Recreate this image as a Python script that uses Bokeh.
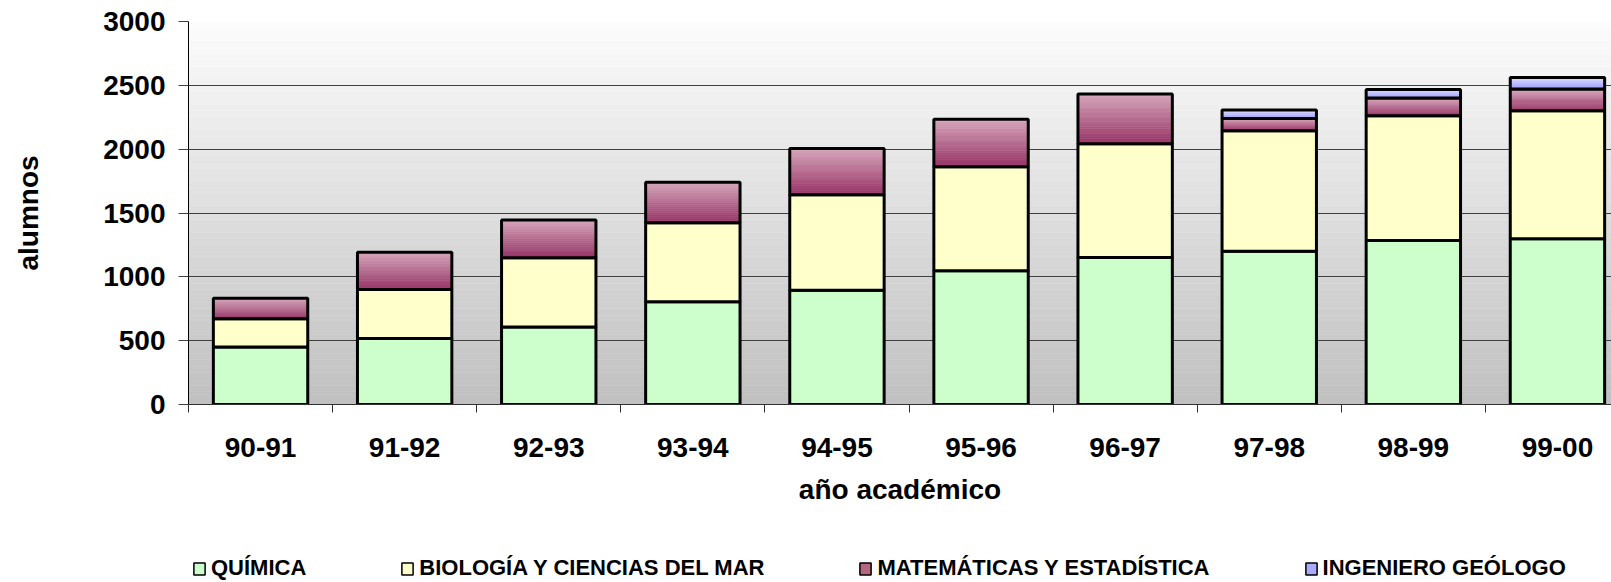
import numpy as np
from bokeh.plotting import figure
from bokeh.layouts import column
from bokeh.models import Range1d, FixedTicker, Legend, LegendItem
from bokeh.embed import file_html
from bokeh.resources import INLINE

# ---------------- data ----------------
years = ["90-91", "91-92", "92-93", "93-94", "94-95", "95-96", "96-97", "97-98", "98-99", "99-00"]
quimica = [450, 516, 607, 805, 895, 1048, 1151, 1201, 1285, 1298]
biologia = [222, 385, 542, 618, 747, 814, 891, 944, 977, 1003]
matematicas = [161, 292, 297, 318, 364, 372, 390, 96, 138, 170]
ingeniero = [0, 0, 0, 0, 0, 0, 0, 65, 68, 90]
series_names = ["QUÍMICA", "BIOLOGÍA Y CIENCIAS DEL MAR", "MATEMÁTICAS Y ESTADÍSTICA", "INGENIERO GEÓLOGO"]
y_ticks = [0, 500, 1000, 1500, 2000, 2500, 3000]

FONT = "Liberation Sans"
W = 1611
H1 = 514
H2 = 582 - H1
LEFT, TOP, BOTTOM = 188, 21, 110
CAT_PX = 144.1
x_end = -0.5 + (W - LEFT) / CAT_PX

p = figure(width=W, height=H1, output_backend="svg", toolbar_location=None,
           x_range=Range1d(-0.5, x_end), y_range=Range1d(y_ticks[0], y_ticks[-1]),
           min_border_left=LEFT, min_border_right=0, min_border_top=TOP, min_border_bottom=BOTTOM)
p.outline_line_color = None
p.background_fill_color = "white"
p.border_fill_color = "white"

# background gradient (white top -> grey bottom)
N = 60
edges = np.linspace(y_ticks[0], y_ticks[-1], N + 1)
cols = []
for k in range(N):
    t = (k + 0.5) / N
    gv = int(round(192 + (252 - 192) * t))
    cols.append("#%02x%02x%02x" % (gv, gv, gv))
p.quad(left=-0.5, right=x_end + 1, bottom=edges[:-1], top=edges[1:], fill_color=cols,
       line_color=cols, line_width=0.5, level="image")

x = np.arange(len(years))
q = np.array(quimica, float)
b = np.array(biologia, float)
m = np.array(matematicas, float)
g = np.array(ingeniero, float)
c1 = q
c2 = c1 + b
c3 = c2 + m
c4 = c3 + g

BW = 0.655
LW = 3

def hexlerp(c_a, c_b, t):
    a = [int(c_a[i:i + 2], 16) for i in (1, 3, 5)]
    bb = [int(c_b[i:i + 2], 16) for i in (1, 3, 5)]
    return "#%02x%02x%02x" % tuple(int(round(a[i] + (bb[i] - a[i]) * t)) for i in range(3))

def gradient_segment(xs, bots, tops, c_bottom, c_top, n=20):
    mask = tops > bots
    xs, bots, tops = xs[mask], bots[mask], tops[mask]
    for j in range(n):
        t0, t1 = j / n, (j + 1) / n
        col = hexlerp(c_bottom, c_top, (j + 0.5) / n)
        p.vbar(x=xs, width=BW, bottom=bots + (tops - bots) * t0, top=bots + (tops - bots) * t1,
               fill_color=col, line_color=col, line_width=0.6)
    p.vbar(x=xs, width=BW, bottom=bots, top=tops, fill_color=None, line_color="black", line_width=LW)

p.vbar(x=x, width=BW, bottom=0, top=c1, fill_color="#ccffcc", line_color="black", line_width=LW)
p.vbar(x=x, width=BW, bottom=c1, top=c2, fill_color="#ffffcc", line_color="black", line_width=LW)
gradient_segment(x, c2, c3, "#963264", "#d6a6bb")
gradient_segment(x, c3, c4, "#9c9cff", "#dcdcff")

# grid
p.xgrid.visible = False
p.ygrid.grid_line_color = "#404040"
p.ygrid.grid_line_width = 1
p.ygrid.ticker = FixedTicker(ticks=y_ticks)

# axes
yax = p.yaxis[0]
yax.ticker = FixedTicker(ticks=y_ticks)
yax.major_tick_out = 10
yax.major_tick_in = 0
yax.minor_tick_out = 0
yax.minor_tick_in = 0
yax.major_label_standoff = 13
yax.axis_line_color = "black"
yax.major_tick_line_color = "#404040"
yax.major_label_text_font = FONT
yax.major_label_text_font_style = "bold"
yax.major_label_text_font_size = "28px"
yax.major_label_text_color = "black"
yax.axis_label = "alumnos"
yax.axis_label_text_font = FONT
yax.axis_label_text_font_style = "bold"
yax.axis_label_text_font_size = "28px"
yax.axis_label_text_color = "black"
yax.axis_label_standoff = 56

xax = p.xaxis[0]
xax.ticker = FixedTicker(ticks=list(x), minor_ticks=[i - 0.5 for i in range(len(years) + 1)])
xax.major_label_overrides = {int(i): years[i] for i in range(len(years))}
xax.major_tick_out = 0
xax.major_tick_in = 0
xax.minor_tick_out = 8
xax.minor_tick_in = 0
xax.minor_tick_line_color = "#303030"
xax.axis_line_color = "#303030"
xax.major_label_standoff = 25
xax.major_label_text_font = FONT
xax.major_label_text_font_style = "bold"
xax.major_label_text_font_size = "28px"
xax.major_label_text_color = "black"
xax.axis_label = "año académico"
xax.axis_label_text_font = FONT
xax.axis_label_text_font_style = "bold"
xax.axis_label_text_font_size = "28px"
xax.axis_label_text_color = "black"
xax.axis_label_standoff = 14

# ---------------- legend strip (separate figure below) ----------------
q2 = figure(width=W, height=H2, output_backend="svg", toolbar_location=None,
            x_axis_type=None, y_axis_type=None, x_range=Range1d(100, 101), y_range=Range1d(0, 1),
            min_border=0)
q2.outline_line_color = None
q2.grid.visible = False
leg_cols = ["#ccffcc", "#ffffcc", "#b4687f", "#aaaaff"]
tops_list = [c1, c2, c3, c4]
bots_list = [np.zeros_like(c1), c1, c2, c3]
items = []
for name, col, tp, bt in zip(series_names, leg_cols, tops_list, bots_list):
    r = q2.vbar(x=x, width=BW, top=tp, bottom=bt, fill_color=col, line_color="black", line_width=1.5)
    r.visible = False
    items.append(LegendItem(label=name, renderers=[r]))
lg = Legend(items=items, location=(4, 1), orientation="horizontal", padding=0, margin=0, spacing=94,
            border_line_color=None, background_fill_alpha=0, inactive_fill_alpha=0,
            glyph_width=14, glyph_height=15, label_standoff=5,
            label_text_font=FONT, label_text_font_style="bold",
            label_text_font_size="22px", label_text_color="black")
q2.add_layout(lg, "center")

layout = column(p, q2, spacing=0)
open("out.html", "w").write(file_html(layout, INLINE))
